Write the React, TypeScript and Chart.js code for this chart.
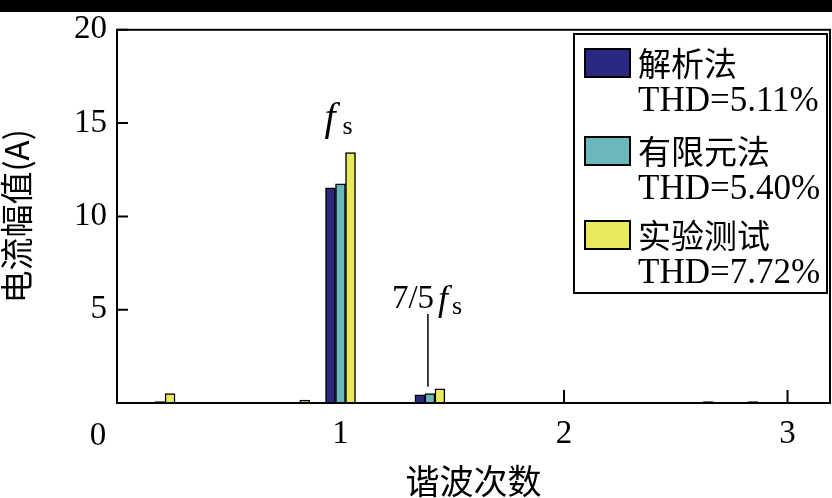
import { useEffect, useRef } from 'react';
import { Chart, registerables } from 'chart.js';

Chart.register(...registerables);

// harmonic order of each bar group (x position)
const harmonicOrders = [0.215, 0.84, 1, 1.4, 2.645, 2.845];
const analyticValues = [0.08, null, 11.53, 0.44, 0.08, 0.08];
const femValues = [null, null, 11.75, 0.51, null, null];
const testValues = [0.51, 0.15, 13.42, 0.76, null, null];

const seriesNames = ['解析法', '有限元法', '实验测试'];
const thdTexts = ['THD=5.11%', 'THD=5.40%', 'THD=7.72%'];
const seriesColors = ['#2a2880', '#6ab8bc', '#e9e95c'];

const xTicks = [1, 2, 3];
const yTicks = [5, 10, 15, 20];

const SERIF = '"Liberation Serif", "Times New Roman", serif';
const CJK = '"Noto Sans CJK SC", sans-serif';

const toPoints = (vals: (number | null)[]) =>
	harmonicOrders.map((x, i) => ({ x, y: vals[i] }));

const decor = {
	id: 'decor',
	beforeDraw(chart: any) {
		const { ctx, width, height } = chart;
		ctx.save();
		ctx.fillStyle = '#fff';
		ctx.fillRect(0, 0, width, height);
		ctx.fillStyle = '#000';
		ctx.fillRect(0, 0, width, 12);
		ctx.restore();
	},
	beforeDatasetsDraw(chart: any) {
		const { ctx, chartArea: a } = chart;
		const { x, y } = chart.scales;
		ctx.save();
		ctx.strokeStyle = '#000';
		ctx.lineWidth = 2;
		ctx.beginPath();
		yTicks.forEach((v) => {
			const py = y.getPixelForValue(v);
			ctx.moveTo(a.left, py);
			ctx.lineTo(a.left + 11, py);
		});
		xTicks.forEach((v) => {
			const px = x.getPixelForValue(v);
			ctx.moveTo(px, a.bottom);
			ctx.lineTo(px, a.bottom - 13);
		});
		ctx.stroke();
		ctx.restore();
	},
	afterDatasetsDraw(chart: any) {
		const { ctx, chartArea: a } = chart;
		const { x, y } = chart.scales;
		ctx.save();
		ctx.strokeStyle = '#000';
		ctx.fillStyle = '#000';
		ctx.lineWidth = 2;
		ctx.strokeRect(a.left, a.top, a.right - a.left, a.bottom - a.top);

		// origin label
		ctx.font = `33px ${SERIF}`;
		ctx.textAlign = 'center';
		ctx.textBaseline = 'middle';
		ctx.fillText('0', x.getPixelForValue(0) - 19, a.bottom + 33);

		// f_s annotation
		ctx.textAlign = 'left';
		ctx.textBaseline = 'alphabetic';
		const p1 = x.getPixelForValue(1);
		ctx.font = `italic 40px ${SERIF}`;
		ctx.fillText('f', p1 - 16, 130);
		ctx.font = `26px ${SERIF}`;
		ctx.fillText('s', p1 + 2, 134);

		// 7/5 f_s annotation
		const p2 = x.getPixelForValue(1.4);
		ctx.font = `33px ${SERIF}`;
		ctx.fillText('7/5', p2 - 38, 308);
		ctx.font = `italic 36px ${SERIF}`;
		ctx.fillText('f', p2 + 8, 310);
		ctx.font = `26px ${SERIF}`;
		ctx.fillText('s', p2 + 22, 314);
		ctx.lineWidth = 1.5;
		ctx.beginPath();
		ctx.moveTo(p2 - 2, 314);
		ctx.lineTo(p2 - 2, y.getPixelForValue(analyticValues[3] as number) - 8);
		ctx.stroke();

		// legend
		ctx.lineWidth = 2;
		ctx.strokeRect(574, 34, 253, 259);
		const rowY = [63, 151, 235];
		seriesNames.forEach((name, i) => {
			const cy = rowY[i];
			ctx.fillStyle = seriesColors[i];
			ctx.fillRect(585, cy - 14, 45, 28);
			ctx.strokeRect(585, cy - 14, 45, 28);
			ctx.fillStyle = '#000';
			ctx.textBaseline = 'middle';
			ctx.font = `33px ${CJK}`;
			ctx.fillText(name, 638, cy);
			ctx.font = `35px ${SERIF}`;
			ctx.fillText(thdTexts[i], 638, cy + 39);
		});
		ctx.restore();
	},
};

export default function App() {
	const canvasRef = useRef<HTMLCanvasElement | null>(null);

	useEffect(() => {
		if (!canvasRef.current) return;
		const chart = new Chart(canvasRef.current, {
			type: 'bar',
			data: {
				datasets: [analyticValues, femValues, testValues].map((vals, i) => ({
					label: seriesNames[i],
					data: toPoints(vals) as any,
					backgroundColor: seriesColors[i],
					borderColor: '#000',
					borderWidth: 1.5,
					barThickness: 10,
					skipNull: true,
				})),
			},
			options: {
				animation: false,
				responsive: false,
				devicePixelRatio: 1,
				layout: { padding: { top: 26, right: 2, left: 0, bottom: 0 } },
				plugins: {
					legend: { display: false },
					tooltip: { enabled: false },
				},
				scales: {
					x: {
						type: 'linear',
						offset: false,
						min: 0,
						max: 3.19,
						grid: { display: false, drawTicks: false, offset: false },
						border: { display: false },
						afterBuildTicks: (s: any) => {
							s.ticks = xTicks.map((value) => ({ value }));
						},
						afterFit: (s: any) => {
							s.height = 95;
						},
						ticks: {
							padding: 12,
							color: '#000',
							maxRotation: 0,
							font: { family: SERIF, size: 33 },
						},
						title: {
							display: true,
							text: '谐波次数',
							color: '#000',
							padding: 0,
							font: { family: CJK, size: 34, lineHeight: 1.0 },
						},
					},
					y: {
						min: 0,
						max: 20,
						grid: { display: false, drawTicks: false },
						border: { display: false },
						afterBuildTicks: (s: any) => {
							s.ticks = yTicks.map((value) => ({ value }));
						},
						afterFit: (s: any) => {
							s.width = 117;
						},
						ticks: {
							padding: 10,
							color: '#000',
							font: { family: SERIF, size: 33 },
						},
						title: {
							display: true,
							text: '电流幅值(A)',
							color: '#000',
							padding: 0,
							font: { family: CJK, size: 33, lineHeight: 1.0 },
						},
					},
				},
			},
			plugins: [decor],
		});
		return () => chart.destroy();
	}, []);

	return (
		<div style={{ position: 'fixed', left: 0, top: 0, width: 832, height: 498, background: '#fff' }}>
			<canvas ref={canvasRef} width={832} height={498}></canvas>
		</div>
	);
}
